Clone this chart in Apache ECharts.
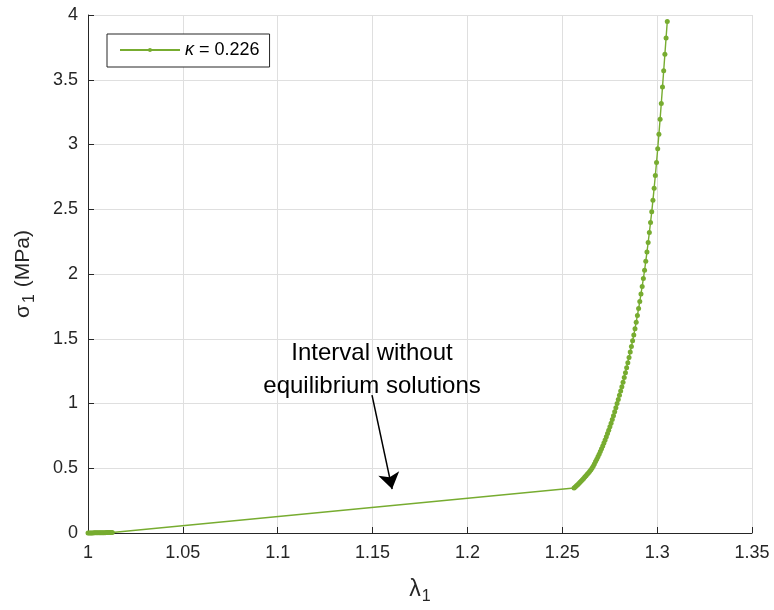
<!DOCTYPE html>
<html>
<head>
<meta charset="utf-8">
<script src="https://cdn.jsdelivr.net/npm/echarts@6/dist/echarts.min.js"></script>
<style>
html,body{margin:0;padding:0;background:#fff;}
#chart{width:774px;height:610px;}
</style>
</head>
<body>
<div id="chart"></div>
<script>
// Low-stretch branch (near lambda = 1)
var lambdaA = [1.0000,1.0006,1.0013,1.0019,1.0026,1.0032,1.0038,1.0045,1.0051,1.0058,1.0064,1.0070,1.0077,1.0083,1.0090,1.0096,1.0102,1.0109,1.0115,1.0122,1.0128];
var sigmaA  = [0.0000,0.0002,0.0004,0.0006,0.0008,0.0010,0.0012,0.0014,0.0016,0.0018,0.0020,0.0022,0.0024,0.0026,0.0028,0.0030,0.0032,0.0034,0.0036,0.0038,0.0040];
// Stiffening branch
var lambdaB = [1.25620,1.25683,1.25746,1.25809,1.25872,1.25935,1.25998,1.26061,1.26124,1.26187,
               1.26250,1.26313,1.26376,1.26439,1.26502,1.26565,1.26628,1.26691,1.26754,1.26817,
               1.26880,1.26943,1.27006,1.27069,1.27132,1.27195,1.27258,1.27321,1.27384,1.27447,
               1.27510,1.27573,1.27636,1.27699,1.27762,1.27825,1.27888,1.27951,1.28014,1.28077,
               1.28140,1.28203,1.28266,1.28329,1.28392,1.28455,1.28518,1.28581,1.28644,1.28707,
               1.28770,1.28833,1.28896,1.28959,1.29022,1.29085,1.29148,1.29211,1.29274,1.29337,
               1.29400,1.29463,1.29526,1.29589,1.29652,1.29715,1.29778,1.29841,1.29904,1.29967,
               1.30030,1.30093,1.30156,1.30219,1.30282,1.30345,1.30408,1.30471,1.30534];
var sigmaB  = [0.3470,0.3557,0.3644,0.3733,0.3824,0.3918,0.4014,0.4112,0.4213,0.4316,
               0.4422,0.4530,0.4641,0.4755,0.4871,0.4991,0.5159,0.5332,0.5512,0.5697,
               0.5889,0.6087,0.6292,0.6504,0.6723,0.6949,0.7183,0.7425,0.7675,0.7933,
               0.8200,0.8476,0.8761,0.9056,0.9360,0.9675,1.0005,1.0314,1.0632,1.0960,
               1.1299,1.1647,1.2007,1.2378,1.2760,1.3154,1.3559,1.3978,1.4410,1.4854,
               1.5294,1.5781,1.6283,1.6801,1.7335,1.7886,1.8455,1.9041,1.9647,2.0286,
               2.0977,2.1692,2.2431,2.3195,2.3985,2.4802,2.5687,2.6626,2.7599,2.8608,
               2.9672,3.0788,3.1958,3.3173,3.4434,3.5690,3.6960,3.8230,3.9500];
var seriesName = 'κ = 0.226';
var xTicks = {min: 1, max: 1.35, interval: 0.05};
var yTicks = {min: 0, max: 4, interval: 0.5};
// Annotation (data coordinates)
var noteText = 'Interval without\nequilibrium solutions';
var noteAt = [1.1497, 1.256];
var arrowFrom = [1.1497, 1.064];
var arrowTo = [1.1603, 0.339];

var data = [];
for (var i = 0; i < lambdaA.length; i++) data.push([lambdaA[i], sigmaA[i]]);
for (var j = 0; j < lambdaB.length; j++) data.push([lambdaB[j], sigmaB[j]]);

var FONT = '"Liberation Sans", Arial, Helvetica, sans-serif';
var GREEN = '#77AC30';
var AX = '#262626';
var GRID = '#dfdfdf';

var chart = echarts.init(document.getElementById('chart'), null, {renderer: 'canvas'});
chart.setOption({
  animation: false,
  backgroundColor: '#fff',
  textStyle: {fontFamily: FONT},
  grid: {left: 88, right: 22, top: 15, bottom: 76, containLabel: false},
  legend: {
    data: [seriesName],
    left: 107, top: 34,
    orient: 'vertical',
    padding: [7, 10, 8, 12],
    itemWidth: 60, itemHeight: 5, itemGap: 0,
    backgroundColor: '#fff',
    borderColor: AX, borderWidth: 1, borderRadius: 0,
    textStyle: {
      fontFamily: FONT, fontSize: 18, color: '#000',
      rich: {k: {fontFamily: FONT, fontSize: 18, fontStyle: 'italic', color: '#000'}}
    },
    formatter: function () { return '{k|κ} = 0.226'; }
  },
  xAxis: {
    type: 'value', min: xTicks.min, max: xTicks.max, interval: xTicks.interval,
    name: '{m|λ}{s|1}', nameLocation: 'middle', nameGap: 42,
    nameTextStyle: {
      color: AX, fontFamily: FONT, fontSize: 22,
      rich: {m: {fontSize: 23, color: AX, fontFamily: FONT}, s: {fontSize: 16, color: AX, fontFamily: FONT, padding: [14, 0, 0, 1]}}
    },
    axisLine: {show: true, onZero: false, lineStyle: {color: AX, width: 1}},
    axisTick: {show: true, inside: true, length: 6, lineStyle: {color: AX, width: 1}},
    axisLabel: {color: AX, fontSize: 18, fontFamily: FONT, margin: 11},
    splitLine: {show: true, lineStyle: {color: GRID, width: 1}}
  },
  yAxis: {
    type: 'value', min: yTicks.min, max: yTicks.max, interval: yTicks.interval,
    name: '{m|σ}{s|1}{m| (MPa)}', nameLocation: 'middle', nameGap: 50, nameRotate: 90,
    nameTextStyle: {
      color: AX, fontFamily: FONT, fontSize: 21,
      rich: {m: {fontSize: 21, color: AX, fontFamily: FONT}, s: {fontSize: 16, color: AX, fontFamily: FONT, padding: [13, 1, 0, 2]}}
    },
    axisLine: {show: true, onZero: false, lineStyle: {color: AX, width: 1}},
    axisTick: {show: true, inside: true, length: 6, lineStyle: {color: AX, width: 1}},
    axisLabel: {color: AX, fontSize: 18, fontFamily: FONT, margin: 10},
    splitLine: {show: true, lineStyle: {color: GRID, width: 1}}
  },
  series: [
    {
      name: seriesName,
      type: 'line',
      data: data,
      clip: false,
      symbol: 'circle',
      symbolSize: 5,
      showSymbol: true,
      showAllSymbol: true,
      lineStyle: {color: GREEN, width: 1.4},
      itemStyle: {color: GREEN},
      z: 3
    },
    {
      name: 'note',
      type: 'line',
      data: [],
      silent: true,
      markLine: {
        silent: true,
        symbol: ['none', 'arrow'],
        symbolSize: 16,
        label: {show: false},
        itemStyle: {color: '#000'},
        lineStyle: {color: '#000', width: 1.5, type: 'solid'},
        emphasis: {disabled: true},
        data: [[{coord: arrowFrom}, {coord: arrowTo}]]
      },
      markPoint: {
        silent: true,
        symbol: 'rect',
        symbolSize: 1,
        itemStyle: {color: 'rgba(0,0,0,0)'},
        label: {
          show: true, position: 'inside', formatter: noteText,
          color: '#000', fontFamily: FONT, fontSize: 24, lineHeight: 33, align: 'center'
        },
        data: [{coord: noteAt}]
      }
    }
  ]
});
</script>
</body>
</html>
